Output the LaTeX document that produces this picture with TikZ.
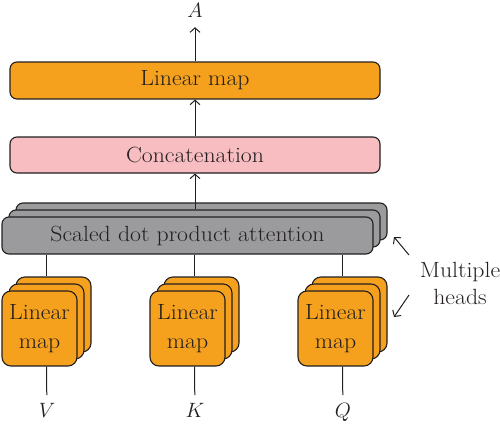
\documentclass[tikz,border=0pt]{standalone}
\usepackage{fontspec}
\setmainfont{Latin Modern Roman}[FakeStretch=1.08]
\usetikzlibrary{arrows.meta}
\definecolor{boxorange}{HTML}{F5A11D}
\definecolor{boxpink}{HTML}{F8BDC1}
\definecolor{boxgray}{HTML}{9B9B9D}
\definecolor{ink}{HTML}{231F20}
\begin{document}
\begin{tikzpicture}[x=1pt,y=-1pt,
  every node/.style={text=ink},
  wide/.style={draw=ink, line width=1.1pt, rounded corners=7pt, minimum width=370pt, minimum height=37pt, inner sep=0pt, font=\fontsize{22}{26}\selectfont},
  small/.style={draw=ink, fill=boxorange, line width=1.1pt, rounded corners=9pt, minimum width=75pt, minimum height=75pt, inner sep=0pt, align=center, font=\fontsize{22}{29}\selectfont},
  lbl/.style={inner sep=0pt, anchor=base, font=\fontsize{21.5}{26}\selectfont},
  arr/.style={draw=ink, line width=1pt, -{Straight Barb[length=4.5pt,width=10pt]}},
  ln/.style={draw=ink, line width=1pt}
]
\useasboundingbox (0,0) rectangle (500,426);

% output label
\node[lbl] (A) at (195,17) {$A$};

% top boxes
\node[wide, fill=boxorange] (lin) at (195,80.5) {Linear map};
\node[wide, fill=boxpink, minimum height=36pt] (cat) at (195,155) {Concatenation};

% attention stack
\node[wide, fill=boxgray, minimum width=371pt] (attB) at (201.5,221.5) {};
\node[wide, fill=boxgray, minimum width=371pt] (attM) at (194.5,228.5) {};
\node[wide, fill=boxgray, minimum width=371pt] (attF) at (187.5,235.5) {Scaled dot product attention};

% small linear map stacks
\foreach \i/\x in {1/0, 2/148, 3/296} {
  \node[small] (lmB\i) at (53.5+\x,314.5) {};
  \node[small] (lmM\i) at (46.5+\x,321.5) {};
  \node[small] (lmF\i) at (39.5+\x,328.5) {Linear\\map};
}

% input labels
\node[lbl] (V) at (47,417) {$V$};
\node[lbl] (K) at (195,417) {$K$};
\node[lbl] (Q) at (343,417) {$Q$};

% connectors
\draw[arr, shorten >=10pt] (lin.north) -- (A.south);
\draw[arr] (cat.north) -- (lin.south);
\draw[arr] (attM.north -| cat.south) -- (cat.south);
\foreach \i in {1,2,3} {
  \draw[ln] (attF.south -| lmM\i.north) -- (lmB\i.north -| lmM\i.north);
}
\draw[ln, shorten >=22pt] (lmF1.south -| lmM1.north) -- (V.base);
\draw[ln, shorten >=22pt] (lmF2.south -| lmM2.north) -- (K.base);
\draw[ln, shorten >=22pt] (lmF3.south -| lmM3.north) -- (Q.base);

% multiple heads
\node[align=center, inner sep=0pt, font=\fontsize{22}{27}\selectfont] (mh) at (460,283) {Multiple\\heads};
\coordinate (h1s) at (409,255);
\coordinate (h1e) at (394,237);
\coordinate (h2s) at (409,295);
\coordinate (h2e) at (394,317);
\draw[arr] (h1s) -- (h1e);
\draw[arr] (h2s) -- (h2e);
\end{tikzpicture}
\end{document}
